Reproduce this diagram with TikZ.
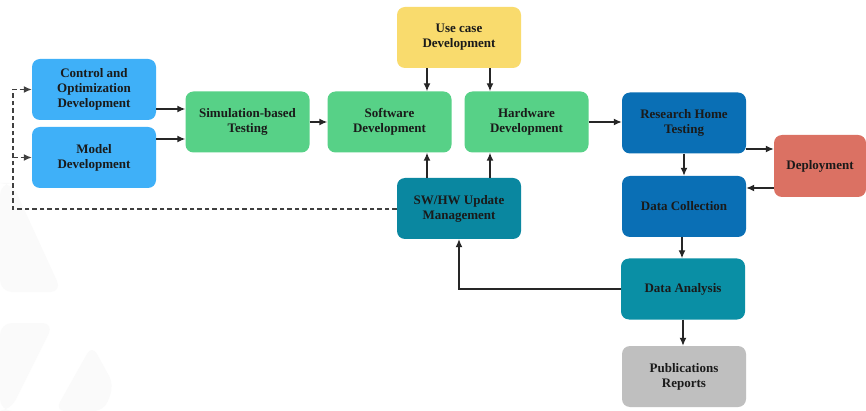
\documentclass[tikz,border=0pt]{standalone}
\usepackage{fontspec}
\setmainfont{Liberation Serif}
\usetikzlibrary{arrows.meta}
\definecolor{cblue}{HTML}{3FB0F8}
\definecolor{cgreen}{HTML}{57D187}
\definecolor{cyellow}{HTML}{F9DB6D}
\definecolor{cteal}{HTML}{0A87A0}
\definecolor{cdblue}{HTML}{0A6FB5}
\definecolor{cred}{HTML}{DB7163}
\definecolor{cteal2}{HTML}{0A8FA5}
\definecolor{cgray}{HTML}{BFBFBF}
\definecolor{ctext}{HTML}{1A1A1A}
\definecolor{cwm}{HTML}{FAFAFA}
\begin{document}
\begin{tikzpicture}[x=1pt,y=-1pt,
  box/.style={rounded corners=8pt, minimum width=124pt, minimum height=61pt, align=center,
    font=\bfseries\fontsize{13}{15}\selectfont, text=ctext, inner sep=2pt},
  arr/.style={-{Latex[length=8pt,width=7pt]}, line width=1.4pt, draw=black!85},
  darr/.style={arr, dashed, dash pattern=on 4.5pt off 3pt, draw=black!75}]
\useasboundingbox (0,0) rectangle (866,411);
\fill[white] (0,0) rectangle (866,411);
% faint watermark
\fill[cwm, rounded corners=12pt] (0,183) -- (12,183) -- (62,292) -- (0,292) -- cycle;
\fill[cwm, rounded corners=12pt] (0,323) -- (54,323) -- (10,411) -- (0,411) -- cycle;
\fill[cwm, rounded corners=10pt] (92,345) -- (114,385) -- (104,411) -- (55,411) -- cycle;
% nodes
\node[box, fill=cblue] (ctrl) at (94,89.5) {Control and\\Optimization\\Development};
\node[box, fill=cblue] (model) at (94,157.5) {Model\\Development};
\node[box, fill=cgreen] (sim) at (247.5,122) {Simulation-based\\Testing};
\node[box, fill=cyellow] (uc) at (459,37.5) {Use case\\Development};
\node[box, fill=cgreen] (sw) at (389.5,122) {Software\\Development};
\node[box, fill=cgreen] (hw) at (526.5,122) {Hardware\\Development};
\node[box, fill=cteal] (upd) at (459,208.5) {SW/HW Update\\Management};
\node[box, fill=cdblue] (rh) at (684,123) {Research Home\\Testing};
\node[box, fill=cred, minimum width=92pt, minimum height=62pt] (dep) at (820,166) {Deployment};
\node[box, fill=cdblue] (dc) at (684,206.5) {Data Collection};
\node[box, fill=cteal2] (da) at (683,289) {Data Analysis};
\node[box, fill=cgray] (pub) at (684,376.5) {Publications\\Reports};
% connectors
\draw[arr] (ctrl.east |- 0,109) -- (sim.west |- 0,109);
\draw[arr] (model.east |- 0,139) -- (sim.west |- 0,139);
\draw[arr] (sim.east) -- (sw.west |- sim.east);
\draw[arr] (uc.south -| 427,0) -- (sw.north -| 427,0);
\draw[arr] (uc.south -| 490,0) -- (hw.north -| 490,0);
\draw[arr] (upd.north -| 427,0) -- (sw.south -| 427,0);
\draw[arr] (upd.north -| 490,0) -- (hw.south -| 490,0);
\draw[arr] (hw.east) -- (rh.west |- hw.east);
\draw[arr] (rh.east |- 0,149) -- (dep.west |- 0,149);
\draw[arr] (dep.west |- 0,188) -- (dc.east |- 0,188);
\draw[arr] (rh.south) -- (dc.north);
\draw[arr] (dc.south -| 682,0) -- (da.north -| 682,0);
\draw[arr] (da.south) -- (pub.north -| da.south);
\draw[arr, line width=1.2pt] (da.west) -| (upd.south);
\coordinate (dl) at (13,209);
\draw[darr] (upd.west |- dl) -- (dl) |- (ctrl.west);
\draw[darr] (dl |- model.west) -- (model.west);
\end{tikzpicture}
\end{document}
